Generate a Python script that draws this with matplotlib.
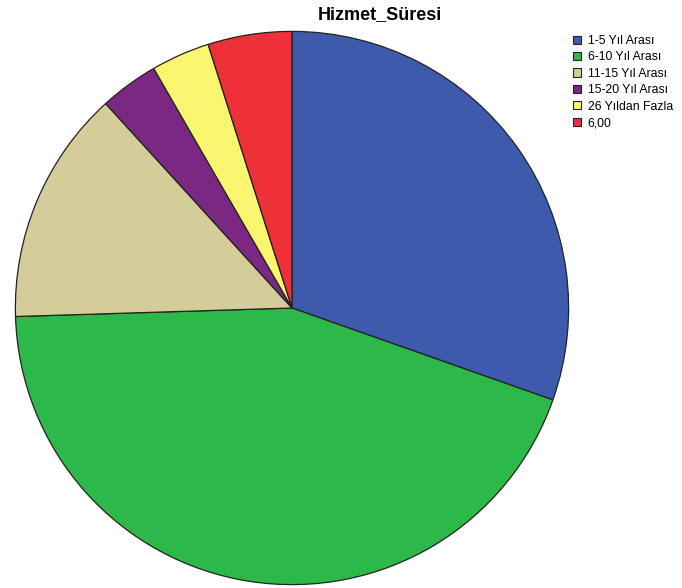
import matplotlib.pyplot as plt
from matplotlib.patches import Patch

# Hizmet süresi dağılımı (kişi sayısı)
labels = ["1-5 Yıl Arası", "6-10 Yıl Arası", "11-15 Yıl Arası",
          "15-20 Yıl Arası", "26 Yıldan Fazla", "6,00"]
counts = [62, 90, 28, 7, 7, 10]
colors = ["#3d5aad", "#2db84a", "#d4cc99", "#7b2882", "#f9f56e", "#ee3138"]

W, H = 682, 588
fig = plt.figure(figsize=(W / 100, H / 100), dpi=100)

# pie centre and radius in pixels
cx, cy, r = 292, 308, 278
ax = fig.add_axes([(cx - r) / W, (H - cy - r) / H, 2 * r / W, 2 * r / H])
ax.pie(counts, colors=colors, startangle=90, counterclock=False, radius=1,
       wedgeprops=dict(edgecolor="#222222", linewidth=0.9))
ax.set_xlim(-1.005, 1.005)
ax.set_ylim(-1.005, 1.005)
ax.set_aspect("equal")
ax.axis("off")

fig.text(380 / W, 1 - 15 / H, "Hizmet_Süresi", ha="center", va="center",
         fontsize=13, fontweight="bold", family="Liberation Sans")

handles = [Patch(facecolor=c, edgecolor="#222222", linewidth=0.8) for c in colors]
fig.legend(handles, labels, loc="upper left", bbox_to_anchor=(573 / W, 1 - 35 / H),
           frameon=False, prop={"family": "Liberation Sans", "size": 8.8},
           handlelength=0.65, handleheight=0.65, handletextpad=0.55,
           labelspacing=0.36, borderaxespad=0, borderpad=0)

fig.savefig("out.png", dpi=100)
